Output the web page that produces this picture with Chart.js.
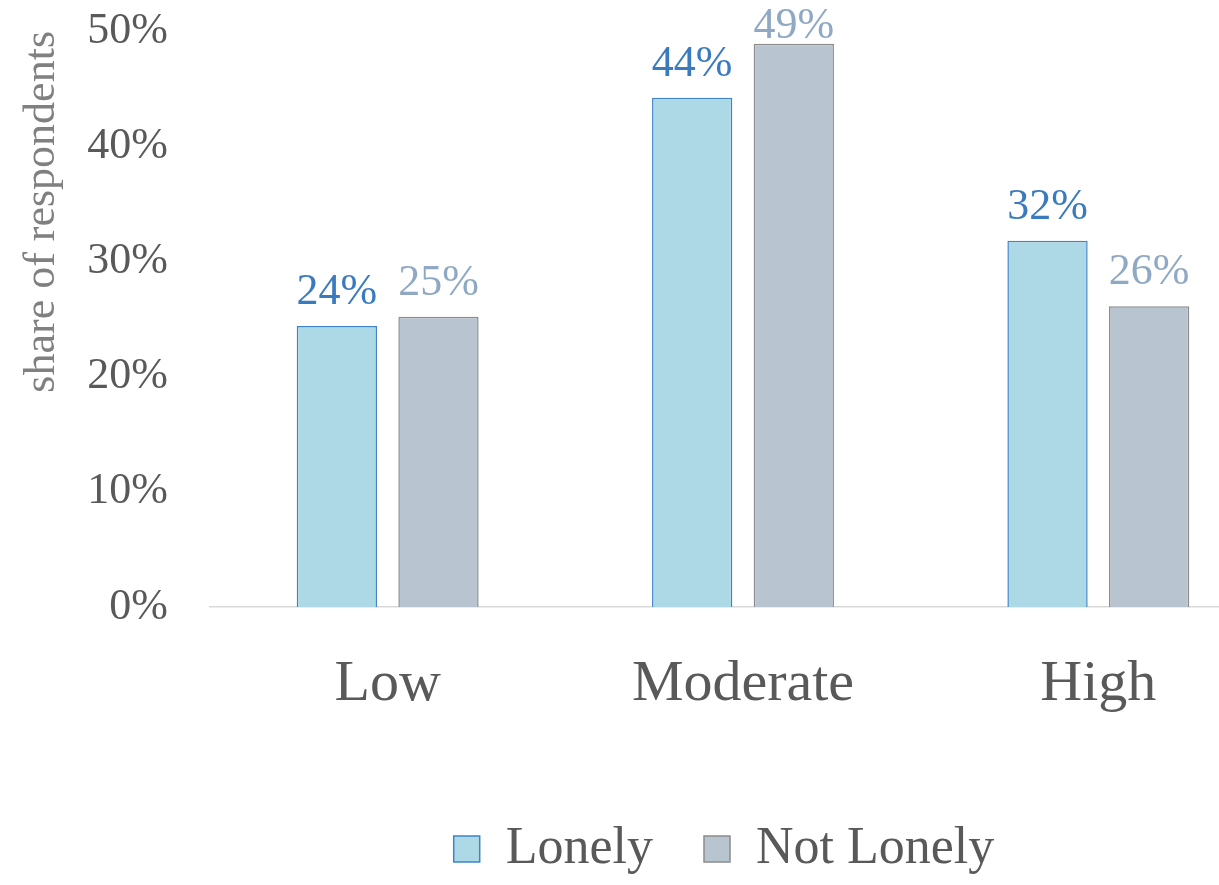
<!DOCTYPE html>
<html>
<head>
<meta charset="utf-8">
<script src="https://cdn.jsdelivr.net/npm/chart.js@4"></script>
<style>
  html, body { margin: 0; padding: 0; background: #ffffff; overflow: hidden; width: 1219px; height: 885px; }
  canvas { display: block; }
</style>
</head>
<body>
<canvas id="c" width="1460" height="885"></canvas>
<script>
const categories = ['Low', 'Moderate', 'High'];
const lonelyValues = [24.4, 44.2, 31.8];
const notLonelyValues = [25.2, 48.9, 26.1];
const lonelyLabels = ['24%', '44%', '32%'];
const notLonelyLabels = ['25%', '49%', '26%'];
const yTicks = [0, 10, 20, 30, 40, 50];

const SERIF = '"Liberation Serif", "DejaVu Serif", serif';

const valueLabelPlugin = {
  id: 'valueLabels',
  afterDatasetsDraw(chart) {
    const ctx = chart.ctx;
    const texts = [lonelyLabels, notLonelyLabels];
    const colors = ['#3a7bbf', '#8fa9c4'];
    ctx.save();
    ctx.font = '44px ' + SERIF;
    ctx.textAlign = 'center';
    ctx.textBaseline = 'alphabetic';
    chart.data.datasets.forEach((ds, di) => {
      const meta = chart.getDatasetMeta(di);
      meta.data.forEach((bar, i) => {
        ctx.fillStyle = colors[di];
        const y = Math.max(bar.y - 22, 38);
        ctx.fillText(texts[di][i], bar.x, y);
      });
    });
    ctx.restore();
  }
};

const legendShiftPlugin = {
  id: 'legendShift',
  afterLayout(chart) {
    if (chart.legend) {
      chart.legend.left += 86;
      chart.legend.right += 86;
    }
  }
};

new Chart(document.getElementById('c'), {
  type: 'bar',
  data: {
    labels: categories,
    datasets: [
      {
        label: 'Lonely',
        data: lonelyValues,
        backgroundColor: '#add8e6',
        borderColor: '#3f83c9',
        borderWidth: 1.5,
        categoryPercentage: 0.572,
        barPercentage: 0.79
      },
      {
        label: 'Not Lonely',
        data: notLonelyValues,
        backgroundColor: '#b8c5d0',
        borderColor: '#8c8c8c',
        borderWidth: 1.5,
        categoryPercentage: 0.572,
        barPercentage: 0.79
      }
    ]
  },
  options: {
    responsive: false,
    devicePixelRatio: 1,
    animation: false,
    layout: { padding: { top: 31, right: 184, bottom: 0, left: 0 } },
    plugins: {
      tooltip: { enabled: false },
      legend: {
        position: 'bottom',
        align: 'center',
        labels: {
          boxWidth: 26,
          boxHeight: 26,
          padding: 51,
          color: '#595959',
          font: { family: SERIF, size: 52 }
        }
      }
    },
    scales: {
      x: {
        grid: { display: false, drawTicks: false },
        border: { display: true, color: '#d9d9d9', width: 1.5 },
        ticks: {
          padding: 43,
          color: '#595959',
          font: { family: SERIF, size: 58 }
        },
        afterFit(scale) { scale.height = 165; }
      },
      y: {
        min: 0,
        max: 50,
        afterBuildTicks(scale) { scale.ticks = yTicks.map(v => ({ value: v })); },
        grid: { display: false, drawTicks: false },
        border: { display: false },
        ticks: {
          padding: 42,
          color: '#595959',
          font: { family: SERIF, size: 44 },
          callback: (v) => v + '%'
        },
        title: {
          display: true,
          text: 'share of respondents',
          align: 'end',
          color: '#808080',
          font: { family: SERIF, size: 44 },
          padding: { top: 16, bottom: 0 }
        },
        afterFit(scale) {
          scale.width = 210;
          scale.paddingTop = 0;
          scale.paddingBottom = 0;
        }
      }
    }
  },
  plugins: [valueLabelPlugin, legendShiftPlugin]
});
</script>
</body>
</html>
